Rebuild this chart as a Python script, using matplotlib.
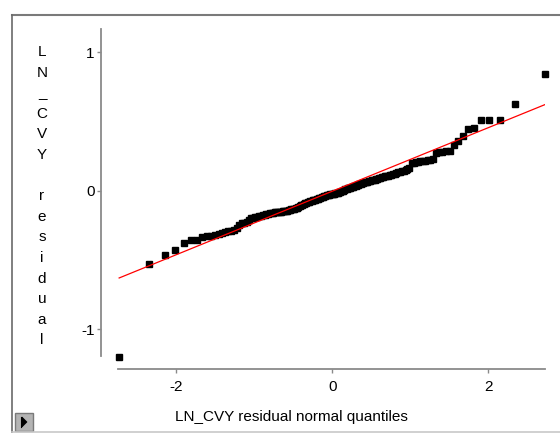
import matplotlib
matplotlib.use("Agg")
import matplotlib.pyplot as plt
from matplotlib.patches import Rectangle, Polygon
from matplotlib.lines import Line2D
from statistics import NormalDist

plt.rcParams['font.family'] = ['Liberation Sans', 'DejaVu Sans']

# sorted LN_CVY residuals
residuals = [
    -1.20, -0.53, -0.467, -0.424, -0.38, -0.359, -0.359, -0.332, -0.33, -0.328,
    -0.318, -0.312, -0.305, -0.30, -0.294, -0.288, -0.28, -0.27, -0.245, -0.235,
    -0.23, -0.225,
    -0.21, -0.20, -0.195, -0.19, -0.187, -0.183, -0.18, -0.177, -0.174, -0.17, -0.167,
    -0.163, -0.16, -0.158, -0.156, -0.155, -0.153, -0.152, -0.15, -0.149, -0.147,
    -0.145, -0.143,
    -0.14, -0.137, -0.133, -0.13, -0.128, -0.125, -0.122, -0.117, -0.11, -0.105,
    -0.10, -0.095, -0.09, -0.086, -0.083, -0.08, -0.077, -0.074, -0.07, -0.067,
    -0.064, -0.061, -0.058, -0.055, -0.052, -0.048, -0.044, -0.04, -0.037, -0.034,
    -0.031, -0.028, -0.026, -0.024,
    -0.022, -0.02, -0.018, -0.016, -0.013, -0.01, -0.006, -0.002, 0.002, 0.006,
    0.01, 0.014, 0.017, 0.02, 0.023, 0.027, 0.03, 0.034, 0.038, 0.042, 0.045,
    0.048, 0.051, 0.054, 0.057, 0.06, 0.063, 0.066, 0.069, 0.072, 0.075,
    0.078, 0.081, 0.085, 0.088, 0.091, 0.094, 0.097, 0.10, 0.104, 0.107,
    0.11, 0.114, 0.117, 0.12, 0.124, 0.128, 0.132, 0.136, 0.14, 0.145,
    0.15, 0.155, 0.162,
    0.20, 0.203, 0.206, 0.209, 0.212, 0.215, 0.218, 0.221, 0.224, 0.228,
    0.275, 0.278, 0.281,
    0.285, 0.29, 0.332, 0.356, 0.397, 0.445, 0.453, 0.508, 0.513, 0.513, 0.63, 0.845,
]

# reference normal line
line_intercept = -0.003
line_slope = 0.2295

x_ticks = [-2, 0, 2]
y_ticks = [-1, 0, 1]
x_label = "LN_CVY residual normal quantiles"
y_label = "LN_CVY residual"

n = len(residuals)
nd = NormalDist()
quantiles = [nd.inv_cdf((i - 0.5) / n) for i in range(1, n + 1)]

W, H = 560, 433
fig = plt.figure(figsize=(W / 100, H / 100), dpi=100)

# axes placed in pixel coordinates
ax_l, ax_r, ax_t, ax_b = 118, 545, 29.3, 356
ax = fig.add_axes([ax_l / W, 1 - ax_b / H, (ax_r - ax_l) / W, (ax_b - ax_t) / H])
ax.set_xlim(-2.745, 2.725)
ax.set_ylim(-1.193, 1.166)

ax.plot(quantiles, residuals, 's', color='black', ms=4.5, mec='black', clip_on=False, zorder=3)
xs = [quantiles[0], quantiles[-1]]
ax.plot(xs, [line_intercept + line_slope * x for x in xs], color='red', lw=0.9, zorder=4)

for side in ('top', 'right'):
    ax.spines[side].set_visible(False)
ax.spines['left'].set_position(('outward', 12))
ax.spines['bottom'].set_position(('outward', 9))
for side in ('left', 'bottom'):
    ax.spines[side].set_color('#8a8a8a')
    ax.spines[side].set_linewidth(1.3)

ax.set_xticks(x_ticks)
ax.set_yticks(y_ticks)
ax.set_xticklabels([str(t) for t in x_ticks])
ax.set_yticklabels([str(t) for t in y_ticks])
ax.tick_params(axis='both', colors='#8a8a8a', labelcolor='black', labelsize=11,
               length=3, width=1)
ax.tick_params(axis='x', pad=5.5)
ax.tick_params(axis='y', pad=2)

# stacked vertical axis title, one character per line
for k, ch in enumerate(y_label):
    fig.text(42 / W, 1 - (52 + 20.6 * k) / H, ch, ha='center', va='center', fontsize=11)

fig.text(291 / W, 1 - 420.5 / H, x_label, ha='center', va='baseline', fontsize=11)

# outer frame
fig.add_artist(Line2D([12 / W, 1], [1 - 15 / H, 1 - 15 / H], transform=fig.transFigure,
                      color='#7a7a7a', lw=1.5))
fig.add_artist(Line2D([12 / W, 12 / W], [1 - 15 / H, 0], transform=fig.transFigure,
                      color='#6a6a6a', lw=1.2))
fig.add_artist(Line2D([12 / W, 1], [1 - 431.5 / H, 1 - 431.5 / H], transform=fig.transFigure,
                      color='#c8c8c8', lw=1.2))

# small disclosure button in the corner
bx, by, bw, bh = 15, 413, 18, 18
fig.add_artist(Rectangle((bx / W, 1 - (by + bh) / H), bw / W, bh / H, transform=fig.transFigure,
                         facecolor='#b4b4b4', edgecolor='#7a7a7a', lw=1.0))
fig.add_artist(Polygon([[(bx + 7) / W, 1 - (by + 4) / H], [(bx + 7) / W, 1 - (by + 14) / H],
                        [(bx + 12) / W, 1 - (by + 9) / H]], closed=True,
                       transform=fig.transFigure, facecolor='black', edgecolor='black', lw=0.5))
fig.add_artist(Line2D([(bx + 5.5) / W, (bx + 5.5) / W], [1 - (by + 4) / H, 1 - (by + 14) / H],
                      transform=fig.transFigure, color='black', lw=0.8))

fig.savefig("out.png", dpi=100)
